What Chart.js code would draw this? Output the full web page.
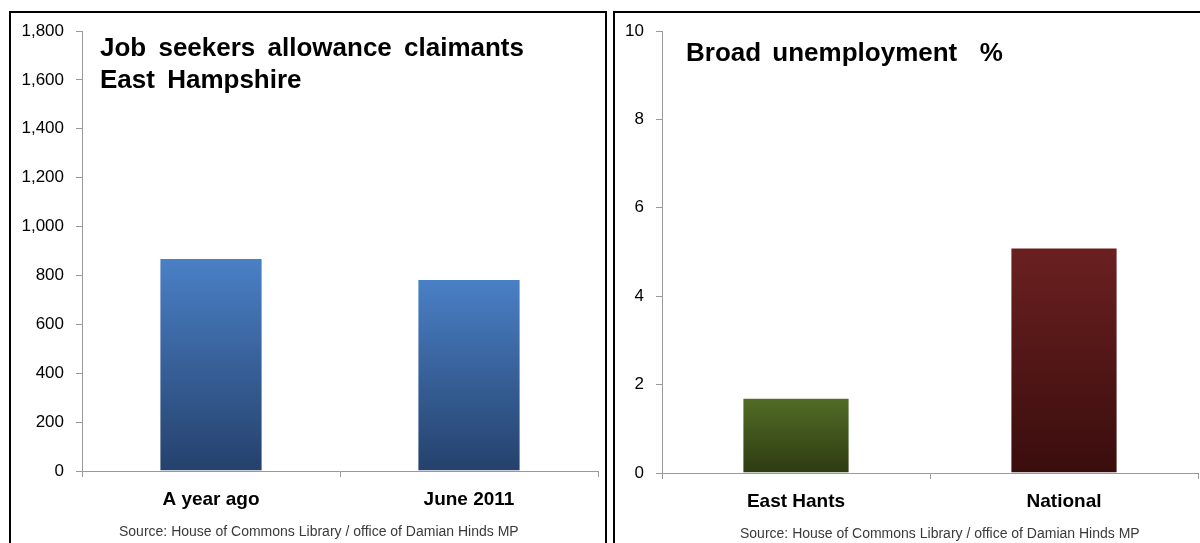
<!DOCTYPE html>
<html>
<head>
<meta charset="utf-8">
<script src="https://cdn.jsdelivr.net/npm/chart.js@4.4.1/dist/chart.umd.min.js"></script>
<style>
	body { margin: 0; width: 1200px; height: 543px; overflow: hidden; background: #fff; font-family: "Liberation Sans", Arial, sans-serif; position: relative; }
	.panel { position: absolute; border: 2px solid #000; box-sizing: border-box; }
	.wrap { position: absolute; }
	.title { position: absolute; font-weight: bold; color: #000; line-height: 32px; white-space: nowrap; }
	.source { position: absolute; font-size: 14px; color: #3a3a3a; white-space: nowrap; }
</style>
</head>
<body>
<div class="panel" style="left:9px; top:11px; width:598px; height:560px;"></div>
<div class="panel" style="left:613px; top:11px; width:600px; height:560px;"></div>

<div class="wrap" style="left:0; top:0; width:606px; height:543px;"><canvas id="jsa"></canvas></div>
<div class="wrap" style="left:608px; top:0; width:592px; height:543px;"><canvas id="unemp"></canvas></div>

<div class="title" style="left:100px; top:31px; font-size:26px; word-spacing:5px;">Job seekers allowance claimants<br>East Hampshire</div>
<div class="title" style="left:686px; top:36px; font-size:26px; word-spacing:4px;">Broad unemployment&nbsp; %</div>

<div class="source" style="left:119px; top:523px;">Source: House of Commons Library / office of Damian Hinds MP</div>
<div class="source" style="left:740px; top:525px;">Source: House of Commons Library / office of Damian Hinds MP</div>

<script>
// Left chart data
const jsaLabels = ["A year ago", "June 2011"];
const jsaValues = [871, 785];
const jsaTicks = [0, 200, 400, 600, 800, 1000, 1200, 1400, 1600, 1800];

// Right chart data
const unempLabels = ["East Hants", "National"];
const unempValues = [1.7, 5.1];
const unempTicks = [0, 2, 4, 6, 8, 10];

// Gradient colours (top, bottom) per bar
const jsaColors = [["#4a80c6", "#25416c"], ["#4a80c6", "#25416c"]];
const unempColors = [["#526d26", "#2d3b12"], ["#6b2020", "#3a0d0d"]];

const font = "'Liberation Sans', Arial, sans-serif";

function barGradient(colors) {
	return function (context) {
		const chart = context.chart;
		const area = chart.chartArea;
		const c = colors[context.dataIndex];
		if (!area) return c[0];
		const y = chart.scales.y;
		const top = y.getPixelForValue(context.raw);
		const bottom = y.getPixelForValue(0);
		const g = chart.ctx.createLinearGradient(0, top, 0, bottom);
		g.addColorStop(0, c[0]);
		g.addColorStop(1, c[1]);
		return g;
	};
}

function makeChart(id, labels, values, colors, tickList, max, yWidth, xHeight, padding, fmt) {
	return new Chart(document.getElementById(id).getContext("2d"), {
		type: 'bar',
		data: {
			labels: labels,
			datasets: [{
				data: values,
				backgroundColor: barGradient(colors),
				borderColor: 'rgba(255,255,255,0.35)',
				borderWidth: 1,
				barPercentage: 0.8,
				categoryPercentage: 0.5
			}]
		},
		options: {
			responsive: true,
			maintainAspectRatio: false,
			animation: false,
			layout: { padding: padding },
			plugins: { legend: { display: false }, tooltip: { enabled: false }, title: { display: false } },
			scales: {
				x: {
					grid: { display: true, drawOnChartArea: false, tickLength: 6, color: '#999', offset: true },
					border: { color: '#999', width: 1 },
					ticks: { color: '#000', padding: 11, font: { family: font, size: 19, weight: 'bold' } },
					afterFit: scale => { scale.height = xHeight; }
				},
				y: {
					min: 0,
					max: max,
					afterBuildTicks: scale => { scale.ticks = tickList.map(v => ({ value: v })); },
					grid: { display: true, drawOnChartArea: false, tickLength: 6, color: '#999' },
					border: { color: '#999', width: 1 },
					ticks: { color: '#000', padding: 12, font: { family: font, size: 17 }, callback: fmt },
					afterFit: scale => { scale.width = yWidth; }
				}
			}
		}
	});
}

makeChart("jsa", jsaLabels, jsaValues, jsaColors, jsaTicks, 1800, 82, 72,
	{ left: 0, right: 8, top: 31, bottom: 0 },
	v => v.toLocaleString('en-GB'));

makeChart("unemp", unempLabels, unempValues, unempColors, unempTicks, 10, 54, 70,
	{ left: 0, right: 2, top: 31, bottom: 0 },
	v => v);
</script>
</body>
</html>
